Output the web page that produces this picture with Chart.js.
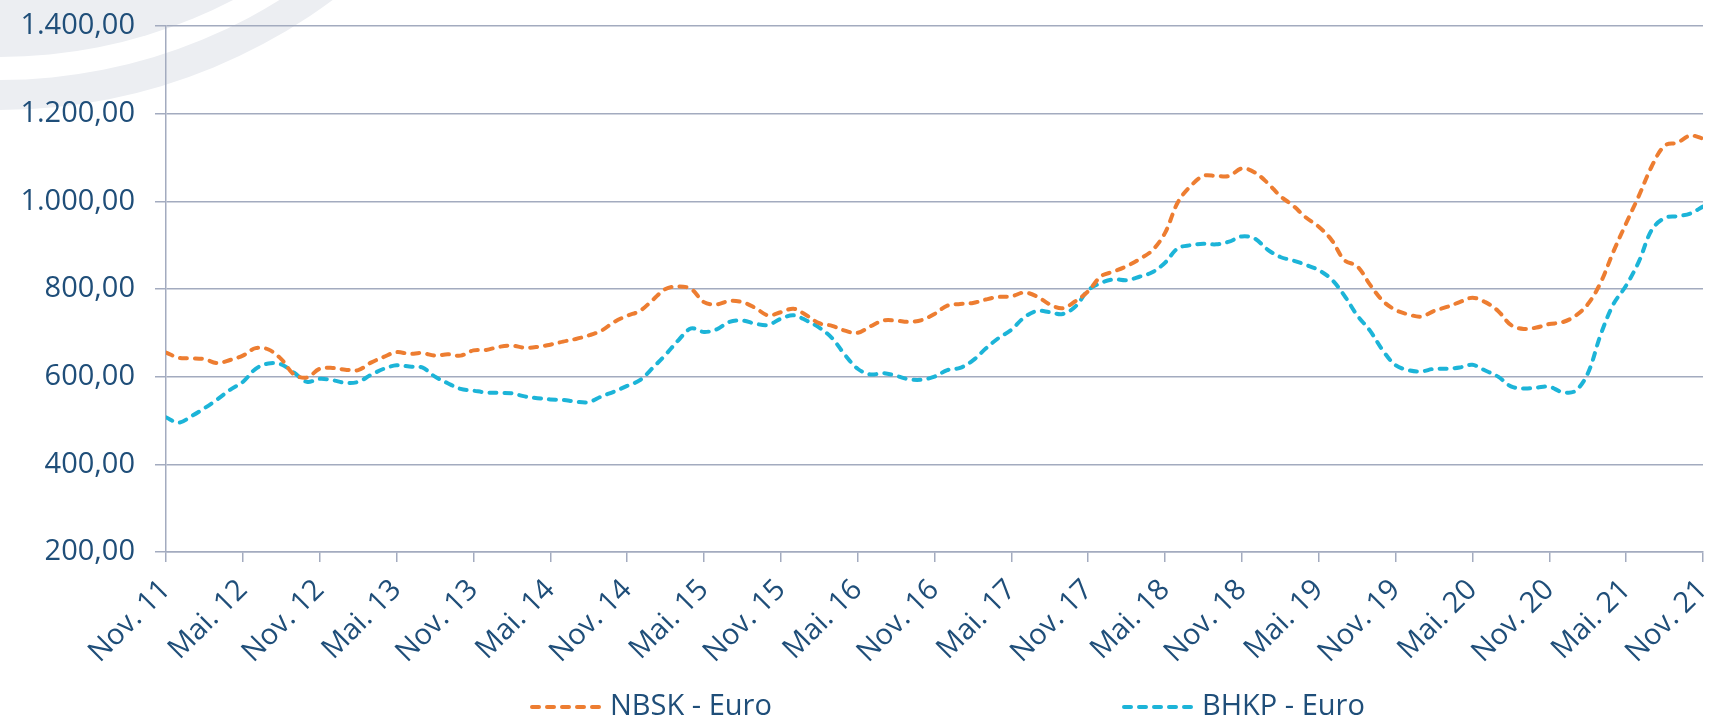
<!DOCTYPE html>
<html>
<head>
<meta charset="utf-8">
<script src="https://cdn.jsdelivr.net/npm/chart.js@4.4.1/dist/chart.umd.min.js"></script>
<style>
  html, body { margin: 0; padding: 0; background: #fff; }
  #wrap { width: 1719px; height: 722px; }
</style>
</head>
<body>
<div id="wrap"><canvas id="pulp"></canvas></div>
<script>
// monthly prices, Nov 2011 .. Nov 2021 (121 months)
var nbsk = [655, 643, 642, 640, 631, 638, 648, 665, 662, 640, 605, 598, 618, 620, 616, 615, 632, 645, 656, 652, 654, 648, 651, 648, 660,
            661, 668, 671, 666, 668, 673, 680, 686, 694, 705, 725, 739, 750, 775, 800, 806, 800, 770, 765, 773, 770, 757, 740, 747,
            755, 740, 722, 716, 705, 700, 715, 728, 728, 725, 729, 743, 762, 766, 768, 776, 782, 783, 792, 783, 765, 756, 772, 795,
            829, 840, 852, 868, 888, 928, 998, 1035, 1058, 1058, 1058, 1075, 1066, 1042, 1012, 990, 963, 942, 912, 866, 852, 810, 773, 752,
            742, 737, 750, 759, 770, 780, 770, 750, 718, 709, 712, 720, 724, 738, 765, 814, 885, 950, 1013, 1080, 1127, 1134, 1150, 1143];
var bhkp = [507, 495, 510, 528, 548, 570, 588, 618, 630, 628, 609, 588, 595, 592, 586, 588, 604, 618, 626, 623, 621, 600, 585, 572, 568,
            564, 563, 562, 555, 551, 548, 547, 543, 542, 555, 566, 579, 592, 620, 650, 683, 710, 702, 708, 725, 728, 721, 718, 732,
            740, 728, 712, 688, 650, 618, 605, 608, 602, 594, 593, 600, 615, 620, 637, 664, 688, 707, 735, 750, 747, 743, 760, 797,
            814, 822, 820, 828, 838, 860, 893, 900, 903, 902, 908, 920, 915, 890, 873, 865, 855, 843, 822, 785, 740, 705, 660, 626,
            615, 612, 618, 618, 621, 627, 614, 600, 578, 573, 575, 577, 565, 567, 607, 695, 765, 808, 863, 935, 962, 966, 972, 988];
// one label every 6 months
var tickLabels = ["Nov. 11", "Mai. 12", "Nov. 12", "Mai. 13", "Nov. 13", "Mai. 14", "Nov. 14", "Mai. 15", "Nov. 15", "Mai. 16", "Nov. 16",
                  "Mai. 17", "Nov. 17", "Mai. 18", "Nov. 18", "Mai. 19", "Nov. 19", "Mai. 20", "Nov. 20", "Mai. 21", "Nov. 21"];
var seriesNames = ["NBSK - Euro", "BHKP - Euro"];

var textColor = '#1f4e79';
var gridColor = '#a3abbf';

function points(arr) {
    return arr.map(function (v, i) { return {x: i, y: v}; });
}

function fmtDe(v) {
    var s = Math.round(v).toString().replace(/\B(?=(\d{3})+(?!\d))/g, '.');
    return s + ',00';
}

Chart.defaults.font.family = "'Open Sans', sans-serif";
Chart.defaults.font.size = 29;
Chart.defaults.color = textColor;

// light swoosh in the top left corner
var backdrop = {
    id: 'backdrop',
    beforeDraw: function (chart) {
        var c = chart.ctx;
        c.save();
        c.fillStyle = '#eceef2';
        c.beginPath();
        c.arc(0, -448, 505, 0, Math.PI, false);
        c.fill();
        c.beginPath();
        c.arc(0, -448, 558, 0, Math.PI, false);
        c.arc(0, -448, 528, Math.PI, 0, true);
        c.closePath();
        c.fill();
        c.restore();
    }
};

// legend items spread out like the original
var wideLegend = {
    id: 'wideLegend',
    afterDraw: function (chart) {
        var c = chart.ctx;
        var spots = [530, 1122];
        var y = 707;
        c.save();
        chart.data.datasets.forEach(function (ds, k) {
            var x0 = spots[k];
            c.strokeStyle = ds.borderColor;
            c.lineWidth = ds.borderWidth;
            c.lineCap = 'round';
            c.setLineDash(ds.borderDash);
            c.beginPath();
            c.moveTo(x0 + 2, y);
            c.lineTo(x0 + 72, y);
            c.stroke();
            c.setLineDash([]);
            c.fillStyle = textColor;
            c.font = "29px 'Open Sans', sans-serif";
            c.textBaseline = 'middle';
            c.textAlign = 'left';
            c.fillText(ds.label, x0 + 80, y);
        });
        c.restore();
    }
};

var ctx = document.getElementById('pulp').getContext('2d');

var nbskLine = {
    label: seriesNames[0],
    data: points(nbsk),
    borderColor: '#ed7d31',
    borderWidth: 4,
    borderDash: [7, 8],
    borderCapStyle: 'round',
    pointRadius: 0,
    tension: 0.35,
    fill: false
};

var bhkpLine = {
    label: seriesNames[1],
    data: points(bhkp),
    borderColor: '#1cb4d8',
    borderWidth: 4,
    borderDash: [7, 8],
    borderCapStyle: 'round',
    pointRadius: 0,
    tension: 0.35,
    fill: false
};

var myChart = new Chart(ctx, {
    type: 'line',
    data: { datasets: [nbskLine, bhkpLine] },
    options: {
        responsive: true,
        maintainAspectRatio: false,
        animation: false,
        layout: { padding: { left: 0, right: 16, top: 26, bottom: 60 } },
        plugins: {
            legend: { display: false },
            tooltip: { enabled: false }
        },
        scales: {
            x: {
                type: 'linear',
                min: 0,
                max: 120,
                afterFit: function (s) { s.height = 110; s.paddingLeft = 0; s.paddingRight = 0; },
                grid: { display: true, drawOnChartArea: false, color: gridColor, lineWidth: 1.5, tickLength: 10 },
                border: { display: true, color: gridColor, width: 1.5 },
                ticks: {
                    stepSize: 6,
                    maxTicksLimit: 40,
                    autoSkip: false,
                    minRotation: 45,
                    maxRotation: 45,
                    padding: 11,
                    callback: function (v) { return tickLabels[v / 6]; }
                }
            },
            y: {
                min: 200,
                max: 1400,
                afterFit: function (s) { s.width = 166; s.paddingTop = 0; s.paddingBottom = 0; },
                grid: { color: gridColor, lineWidth: 1.5, tickLength: 11 },
                border: { display: true, color: gridColor, width: 1.5 },
                ticks: {
                    stepSize: 200,
                    maxTicksLimit: 20,
                    padding: 20,
                    callback: function (v) { return fmtDe(v); }
                }
            }
        }
    },
    plugins: [backdrop, wideLegend]
});
</script>
</body>
</html>
